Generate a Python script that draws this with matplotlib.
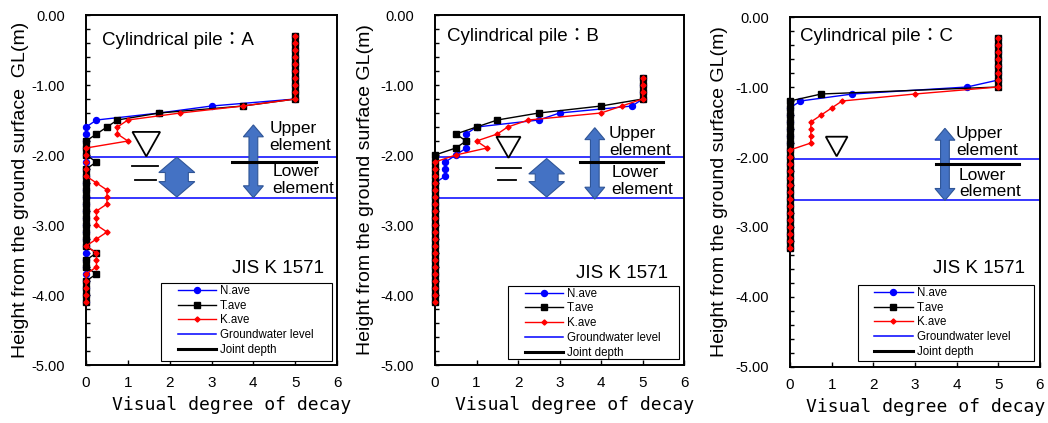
import matplotlib
matplotlib.use('Agg')
import matplotlib.pyplot as plt
from matplotlib.patches import Polygon, Rectangle
from matplotlib.lines import Line2D
from matplotlib.ticker import MultipleLocator, FormatStrFormatter

plt.rcParams['font.family'] = ['Liberation Sans', 'Noto Sans CJK JP']
plt.rcParams['axes.unicode_minus'] = False

BLUE = '#0000ff'
RED = '#ff0000'
ARROW = '#4472c4'

# ---- data: depth (m) and visual degree of decay, pile A
depth_a = [-0.3, -0.4, -0.5, -0.6, -0.7, -0.8, -0.9, -1.0, -1.1, -1.2,
           -1.3, -1.4, -1.5, -1.6, -1.7, -1.8, -1.9, -2.0, -2.1, -2.2,
           -2.3, -2.4, -2.5, -2.6, -2.7, -2.8, -2.9, -3.0, -3.1, -3.2,
           -3.3, -3.4, -3.5, -3.6, -3.7, -3.8, -3.9, -4.0, -4.1]
n_a = [5, 5, 5, 5, 5, 5, 5, 5, 5, 5,
       3.0, 1.75, 0.25, 0, 0, 0, 0, 0, 0, 0,
       0, 0, 0, 0, 0, 0, 0, 0, 0, 0,
       0, 0, 0, 0, 0, 0, 0, 0, 0]
t_a = [5, 5, 5, 5, 5, 5, 5, 5, 5, 5,
       3.75, 1.75, 0.75, 0.5, 0.25, 0, 0, 0, 0.25, 0,
       0, 0, 0, 0, 0, 0, 0, 0, 0, 0,
       0, 0.25, 0, 0, 0.25, 0, 0, 0, 0]
k_a = [5, 5, 5, 5, 5, 5, 5, 5, 5, 5,
       3.75, 2.25, 1.0, 0.75, 0.75, 1.0, 0, 0, 0, 0,
       0, 0.25, 0.5, 0.5, 0.5, 0.25, 0.25, 0.25, 0.5, 0.25,
       0, 0.25, 0.25, 0.25, 0, 0, 0, 0, 0]

# pile B
depth_b = [-0.9, -1.0, -1.1, -1.2,
           -1.3, -1.4, -1.5, -1.6, -1.7, -1.8, -1.9, -2.0, -2.1, -2.2,
           -2.3, -2.4, -2.5, -2.6, -2.7, -2.8, -2.9, -3.0, -3.1, -3.2,
           -3.3, -3.4, -3.5, -3.6, -3.7, -3.8, -3.9, -4.0, -4.1]
n_b = [5, 5, 5, 5,
       4.75, 3.0, 2.5, 1.0, 0.75, 0.75, 0.75, 0.5, 0.25, 0.25,
       0.25, 0, 0, 0, 0, 0, 0, 0, 0, 0,
       0, 0, 0, 0, 0, 0, 0, 0, 0]
t_b = [5, 5, 5, 5,
       4.0, 2.5, 1.5, 1.0, 0.5, 0.75, 0.5, 0, 0, 0,
       0, 0, 0, 0, 0, 0, 0, 0, 0, 0,
       0, 0, 0, 0, 0, 0, 0, 0, 0]
k_b = [5, 5, 5, 5,
       4.5, 4.0, 2.25, 1.75, 1.5, 1.0, 1.25, 0.5, 0, 0,
       0, 0, 0, 0, 0, 0, 0, 0, 0, 0,
       0, 0, 0, 0, 0, 0, 0, 0, 0]

# pile C
depth_c = [-0.3, -0.4, -0.5, -0.6, -0.7, -0.8, -0.9, -1.0, -1.1, -1.2,
           -1.3, -1.4, -1.5, -1.6, -1.7, -1.8, -1.9, -2.0, -2.1, -2.2,
           -2.3, -2.4, -2.5, -2.6, -2.7, -2.8, -2.9, -3.0, -3.1, -3.2,
           -3.3]
n_c = [5, 5, 5, 5, 5, 5, 5, 4.25, 1.5, 0.25,
       0, 0, 0, 0, 0, 0, 0, 0, 0, 0,
       0, 0, 0, 0, 0, 0, 0, 0, 0, 0,
       0]
t_c = [5, 5, 5, 5, 5, 5, 5, 5, 0.75, 0,
       0, 0, 0, 0, 0, 0, 0, 0, 0, 0,
       0, 0, 0, 0, 0, 0, 0, 0, 0, 0,
       0]
k_c = [5, 5, 5, 5, 5, 5, 5, 5, 3.0, 1.25,
       1.0, 0.75, 0.5, 0.5, 0.5, 0.5, 0, 0, 0, 0,
       0, 0, 0, 0, 0, 0, 0, 0, 0, 0,
       0]

groundwater = [-2.03, -2.61]
joint_depth = -2.1
series_names = ['N.ave', 'T.ave', 'K.ave', 'Groundwater level', 'Joint depth']

# panel layout and annotation placement
panels = [
    dict(name='A', depth=depth_a, n=n_a, t=t_a, k=k_a,
         rect=[0.0821, 0.1371, 0.2395, 0.8274],
         ylabel='Height from the ground surface  GL(m)', ylab_x=-0.263, xlab_x=0.58,
         title_xy=(0.37, -0.36), jis_xy=(3.48, -3.62),
         tri=(1.11, 1.77, -1.67, -2.02), wlines=[(1.11, 1.71, -2.16), (1.17, 1.67, -2.35)],
         fat=(2.17, -2.03, -2.6), thin=(4.0, -1.57, -2.61),
         upper_xy=(4.38, -1.745), lower_xy=(4.46, -2.36),
         leg_box=(0.299, 0.011, 0.681, 0.223)),
    dict(name='B', depth=depth_b, n=n_b, t=t_b, k=k_b,
         rect=[0.4151, 0.1371, 0.2376, 0.8274],
         ylabel='Height from the ground surface GL(m)', ylab_x=-0.281, xlab_x=0.56,
         title_xy=(0.28, -0.31), jis_xy=(3.4, -3.69),
         tri=(1.48, 2.06, -1.74, -2.04), wlines=[(1.46, 2.06, -2.19), (1.51, 1.96, -2.36)],
         fat=(2.69, -2.05, -2.6), thin=(3.85, -1.61, -2.63),
         upper_xy=(4.19, -1.815), lower_xy=(4.25, -2.37),
         leg_box=(0.294, 0.017, 0.686, 0.209)),
    dict(name='C', depth=depth_c, n=n_c, t=t_c, k=k_c,
         rect=[0.7538, 0.1324, 0.2385, 0.8274],
         ylabel='Height from the ground surface GL(m)', ylab_x=-0.28, xlab_x=0.544,
         title_xy=(0.24, -0.28), jis_xy=(3.44, -3.59),
         tri=(0.86, 1.38, -1.71, -1.99), wlines=[],
         fat=None, thin=(3.72, -1.59, -2.62),
         upper_xy=(3.98, -1.79), lower_xy=(4.06, -2.38),
         leg_box=(0.272, 0.017, 0.704, 0.217)),
]


def double_arrow(ax, x, y_top, y_bot, shaft, head, head_len):
    hs, hh = shaft / 2, head / 2
    pts = [(x, y_top), (x + hh, y_top - head_len), (x + hs, y_top - head_len),
           (x + hs, y_bot + head_len), (x + hh, y_bot + head_len), (x, y_bot),
           (x - hh, y_bot + head_len), (x - hs, y_bot + head_len),
           (x - hs, y_top - head_len), (x - hh, y_top - head_len)]
    ax.add_patch(Polygon(pts, closed=True, fc=ARROW, ec='#2f5597', lw=0.8, zorder=4))


fig = plt.figure(figsize=(10.48, 4.23), dpi=100)

for p in panels:
    ax = fig.add_axes(p['rect'])
    d = p['depth']
    ax.plot(p['n'], d, '-o', color=BLUE, ms=4.3, lw=1.0, clip_on=False, zorder=3)
    ax.plot(p['t'], d, '-s', color='black', ms=4.5, lw=1.0, clip_on=False, zorder=3.1)
    ax.plot(p['k'], d, '-D', color=RED, ms=2.6, lw=1.0, clip_on=False, zorder=3.2)
    for g in groundwater:
        ax.axhline(g, color=BLUE, lw=1.1, zorder=2)
    ax.plot([3.5, 5.5], [joint_depth, joint_depth], color='black', lw=2.2, zorder=5)

    # water level symbol
    x0, x1, yt, yb = p['tri']
    ax.add_patch(Polygon([(x0, yt), (x1, yt), ((x0 + x1) / 2, yb)], closed=True,
                         fc='white', ec='black', lw=1.3, zorder=4))
    for a, b, y in p['wlines']:
        ax.plot([a, b], [y, y], color='black', lw=1.3, zorder=4)
    if p['fat']:
        fx, fy0, fy1 = p['fat']
        double_arrow(ax, fx, fy0, fy1, 0.55, 0.86, 0.22)
    tx, ty0, ty1 = p['thin']
    double_arrow(ax, tx, ty0, ty1, 0.21, 0.48, 0.17)

    ax.text(*p['upper_xy'], 'Upper\nelement', fontsize=12.5, ha='left', va='center',
            linespacing=1.15, zorder=6)
    ax.text(*p['lower_xy'], 'Lower\nelement', fontsize=12.5, ha='left', va='center',
            linespacing=1.15, zorder=6)
    ax.text(*p['title_xy'], 'Cylindrical pile\uff1a' + p['name'], fontsize=13.5,
            ha='left', va='center')
    ax.text(*p['jis_xy'], 'JIS K 1571', fontsize=13.5, ha='left', va='center')

    # legend: frame drawn separately so its padding matches the original
    lx, ly, lw_, lh = p['leg_box']
    ax.add_patch(Rectangle((lx, ly), lw_, lh, transform=ax.transAxes, fc='white',
                           ec='black', lw=0.8, zorder=6))
    handles = [Line2D([], [], color=BLUE, marker='o', ms=4.3, lw=1.0),
               Line2D([], [], color='black', marker='s', ms=4.5, lw=1.0),
               Line2D([], [], color=RED, marker='D', ms=2.6, lw=1.0),
               Line2D([], [], color=BLUE, lw=1.1),
               Line2D([], [], color='black', lw=2.2)]
    leg = ax.legend(handles, series_names, loc='upper left',
                    bbox_to_anchor=(lx + 0.066, ly + lh - 0.005), frameon=False,
                    fontsize=8.3, borderpad=0, borderaxespad=0, handlelength=3.3,
                    handletextpad=0.35, labelspacing=0.24)
    leg.set_zorder(7)

    ax.set_xlim(0, 6)
    ax.set_ylim(-5, 0)
    ax.xaxis.set_major_locator(MultipleLocator(1))
    ax.yaxis.set_major_locator(MultipleLocator(1))
    ax.yaxis.set_minor_locator(MultipleLocator(0.2))
    ax.yaxis.set_major_formatter(FormatStrFormatter('%.2f'))
    ax.tick_params(axis='both', which='both', direction='in')
    ax.tick_params(axis='y', which='both', length=3, width=1, pad=15, labelsize=10.5)
    ax.tick_params(axis='x', length=3.5, width=1, pad=8, labelsize=11)
    for s in ax.spines.values():
        s.set_linewidth(1.4)

    ax.text(p['ylab_x'], 0.5, p['ylabel'], rotation=90, fontsize=14,
            ha='center', va='center', transform=ax.transAxes)
    ax.text(p['xlab_x'], -0.114, 'Visual degree of decay', family='DejaVu Sans Mono',
            fontsize=13, ha='center', va='center', transform=ax.transAxes)

fig.savefig('out.png', dpi=100)
